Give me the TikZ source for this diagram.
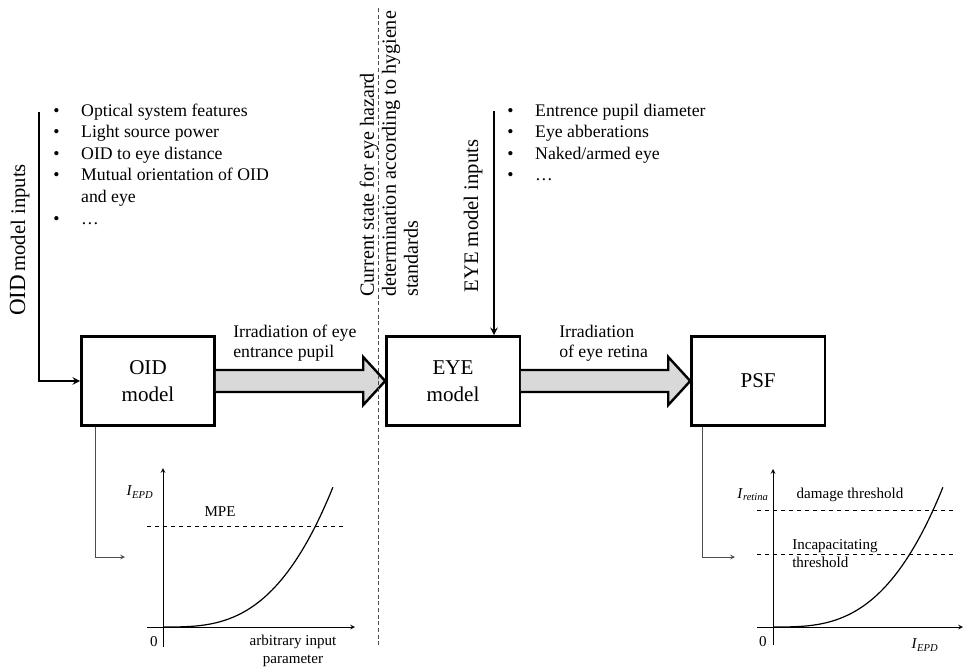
\documentclass[tikz,border=0pt]{standalone}
\usepackage{fontspec}
\setmainfont{Liberation Serif}
\usetikzlibrary{positioning,calc}

\tikzset{
  model/.style={draw, line width=1.8pt, minimum width=100pt, minimum height=67pt,
    align=center, font=\fontsize{15.8}{20}\selectfont},
  flow/.style={draw, line width=1.8pt, fill=black!15, line join=miter},
  feed/.style={-stealth, line width=1.5pt},
  probe/.style={-stealth, black!70, line width=0.6pt},
  axis/.style={-stealth, line width=0.6pt},
  level/.style={dashed, line width=0.5pt},
  lbl/.style={font=\fontsize{13.3}{15}\selectfont, align=left, inner sep=0pt},
  small/.style={font=\fontsize{11.3}{13.5}\selectfont, inner sep=0pt},
  vtext/.style={rotate=90, inner sep=0pt},
}

% block arrow from the east side of #1 to the west side of #2
\newcommand{\lightbeam}[2]{%
  \draw[flow] ($(#1.east)+(0,11)$) -- ($(#2.west)+(-22,11)$) -- ($(#2.west)+(-22,24)$)
    -- (#2.west) -- ($(#2.west)+(-22,-24)$) -- ($(#2.west)+(-22,-11)$) -- ($(#1.east)+(0,-11)$);}

\begin{document}
\begin{tikzpicture}[x=0.75pt, y=-0.75pt]
  \useasboundingbox (0,0) rectangle (964,668);

  % the three blocks
  \node[model] (oid) at (148,381) {OID\\model};
  \node[model, right=127pt of oid] (eye) {EYE\\model};
  \node[model, right=127pt of eye] (psf) {PSF};

  \lightbeam{oid}{eye}
  \lightbeam{eye}{psf}
  \node[lbl, anchor=west] (beam1) at (233,343) {Irradiation of eye\\entrance pupil};
  \node[lbl, anchor=west] (beam2) at (559,343) {Irradiation\\of eye retina};

  % model inputs
  \coordinate (oidtop) at (39,112);
  \coordinate (eyetop) at (494,111);
  \draw[feed] (oidtop) |- (oid.west);
  \draw[feed] (eyetop) -- (eyetop |- eye.north);
  \node[vtext, anchor=base] (oidin) at (25,240)
    {{\fontsize{17.3}{20}\selectfont OID} {\fontsize{15.5}{18}\selectfont model inputs}};
  \node[vtext, anchor=base, font=\fontsize{15.5}{18}\selectfont] (eyein) at (478,216) {EYE model inputs};

  \node[lbl, anchor=base west, font=\fontsize{13.3}{16.2}\selectfont] (oidlist) at (53,116)
    {\begin{tabular}[t]{@{}l@{\hspace{16.3pt}}l@{}}
      \textbullet & Optical system features\\
      \textbullet & Light source power\\
      \textbullet & OID to eye distance\\
      \textbullet & Mutual orientation of OID\\
                  & and eye\\
      \textbullet & \ldots
    \end{tabular}};
  \node[lbl, anchor=base west, font=\fontsize{13.3}{16.2}\selectfont] (eyelist) at (507,116)
    {\begin{tabular}[t]{@{}l@{\hspace{16.3pt}}l@{}}
      \textbullet & Entrence pupil diameter\\
      \textbullet & Eye abberations\\
      \textbullet & Naked/armed eye\\
      \textbullet & \ldots
    \end{tabular}};

  % current state border
  \coordinate (cuttop) at (378,8);
  \coordinate (cutbot) at (378,645);
  \draw[densely dashed, black!70, line width=0.5pt] (cuttop) -- (cutbot);
  \node[vtext, anchor=west, align=left, font=\fontsize{15.1}{16.5}\selectfont] (state) at (389,297)
    {Current state for eye hazard\\determination according to hygiene\\standards};

  % left plot
  \coordinate (o1) at (163,627);
  \coordinate (in1) at (125,557);
  \draw[probe] ($(oid.south west)+(15,0)$) |- (in1);
  \draw[axis] (163,647) -- (163,468);
  \draw[axis] (147,627) -- (355,627);
  \draw[level] (147,526) -- (345,526);
  \draw[line width=0.9pt] plot[domain=0:1, samples=60] ({163+170*\x},{627-140*\x*\x*\x});
  \node[small] (y1) at (140,492) {\textit{I}\textsubscript{\textit{EPD}}};
  \node[small] (mpe) at (220,512) {MPE};
  \node[small] (zero1) at (154,642) {0};
  \node[small, align=center] (x1) at (293,651) {arbitrary input\\parameter};

  % right plot
  \coordinate (o2) at (773,627);
  \coordinate (in2) at (735,557);
  \draw[probe] ($(psf.south west)+(12,0)$) |- (in2);
  \draw[axis] (773,645) -- (773,469);
  \draw[axis] (757,627) -- (963,627);
  \draw[level] (757,510) -- (955,510);
  \draw[level] (757,554) -- (955,554);
  \draw[line width=0.9pt] plot[domain=0:1, samples=60] ({773+170*\x},{627-140*\x*\x*\x});
  \node[small] (y2) at (753,495) {\textit{I}\textsubscript{\textit{retina}}};
  \node[small] (dmg) at (850,495) {damage threshold};
  \node[small, anchor=west, align=left] (inc) at (792,554) {Incapacitating\\threshold};
  \node[small] (zero2) at (763,642) {0};
  \node[small] (x2) at (925,645) {\textit{I}\textsubscript{\textit{EPD}}};
\end{tikzpicture}
\end{document}
